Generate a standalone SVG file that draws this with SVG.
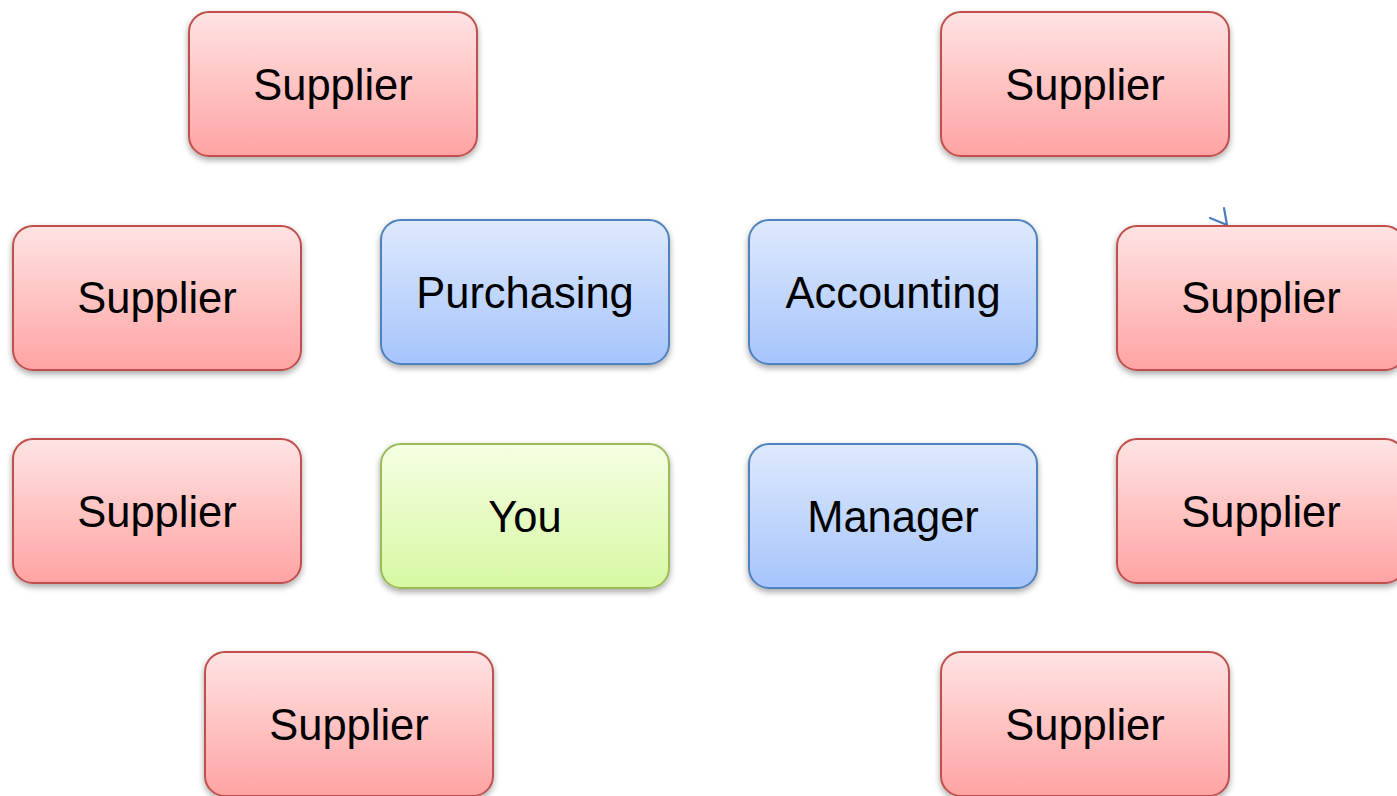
<svg xmlns="http://www.w3.org/2000/svg" width="1397" height="796" viewBox="0 0 1397 796">
<style>
.box{stroke-width:2;filter:url(#sh)}
.sup{fill:url(#gr);stroke:#C0504D}
.dep{fill:url(#gb);stroke:#4F81BD}
.you{fill:url(#gg);stroke:#9BBB59}
text{font-family:"Liberation Sans",Arial,sans-serif;font-size:43.5px;fill:#000;text-anchor:middle}
.conn{fill:none;stroke:#4A7EBB;stroke-width:2.2;stroke-linecap:round}
</style>
<defs>
<linearGradient id="gr" x1="0" y1="0" x2="0" y2="1"><stop offset="0" stop-color="#FFE3E3"/><stop offset="1" stop-color="#FFA3A3"/></linearGradient>
<linearGradient id="gb" x1="0" y1="0" x2="0" y2="1"><stop offset="0" stop-color="#DEE9FD"/><stop offset="1" stop-color="#A6C5FB"/></linearGradient>
<linearGradient id="gg" x1="0" y1="0" x2="0" y2="1"><stop offset="0" stop-color="#F5FEE3"/><stop offset="1" stop-color="#D7F8A3"/></linearGradient>
<filter id="sh" x="-10%" y="-10%" width="120%" height="130%"><feDropShadow dx="0" dy="3" stdDeviation="3" flood-color="#000" flood-opacity="0.35"/></filter>
</defs>
<g id="connectors">
<polyline class="conn" points="1210,218 1227,225 1224,208"/>
</g>
<g id="supplier1"><rect class="box sup" x="189" y="12" width="288" height="144" rx="20"/><text x="333" y="100">Supplier</text></g>
<g id="supplier2"><rect class="box sup" x="941" y="12" width="288" height="144" rx="20"/><text x="1085" y="100">Supplier</text></g>
<g id="supplier3"><rect class="box sup" x="13" y="226" width="288" height="144" rx="20"/><text x="157" y="313">Supplier</text></g>
<g id="purchasing"><rect class="box dep" x="381" y="220" width="288" height="144" rx="20"/><text x="525" y="308">Purchasing</text></g>
<g id="accounting"><rect class="box dep" x="749" y="220" width="288" height="144" rx="20"/><text x="893" y="308">Accounting</text></g>
<g id="supplier4"><rect class="box sup" x="1117" y="226" width="288" height="144" rx="20"/><text x="1261" y="313">Supplier</text></g>
<g id="supplier5"><rect class="box sup" x="13" y="439" width="288" height="144" rx="20"/><text x="157" y="527">Supplier</text></g>
<g id="you"><rect class="box you" x="381" y="444" width="288" height="144" rx="20"/><text x="525" y="532">You</text></g>
<g id="manager"><rect class="box dep" x="749" y="444" width="288" height="144" rx="20"/><text x="893" y="532">Manager</text></g>
<g id="supplier6"><rect class="box sup" x="1117" y="439" width="288" height="144" rx="20"/><text x="1261" y="527">Supplier</text></g>
<g id="supplier7"><rect class="box sup" x="205" y="652" width="288" height="144" rx="20"/><text x="349" y="740">Supplier</text></g>
<g id="supplier8"><rect class="box sup" x="941" y="652" width="288" height="144" rx="20"/><text x="1085" y="740">Supplier</text></g>
</svg>
